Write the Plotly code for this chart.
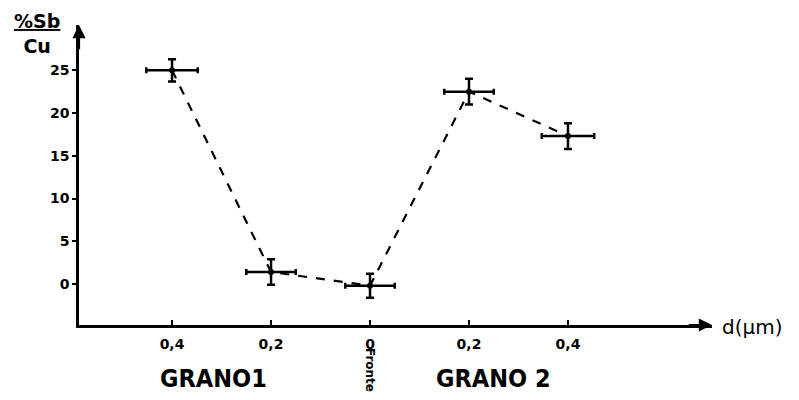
import plotly.graph_objects as go

# data
dist = [-0.4, -0.2, 0.0, 0.2, 0.4]
sb_cu = [25.0, 1.4, -0.2, 22.5, 17.3]
dist_err = [0.052, 0.05, 0.05, 0.05, 0.053]
sb_err = [1.3, 1.5, 1.4, 1.5, 1.5]
x_tickvals = [-0.4, -0.2, 0.0, 0.2, 0.4]
x_ticktext = ["0,4", "0,2", "0", "0,2", "0,4"]
y_tickvals = [0, 5, 10, 15, 20, 25]

# page has an 8px body margin; the figure is sized to fit the window
W, H = 791, 392
PW, PH = 633, 300
ml, mt = 71, 17
mr, mb = W - ml - PW, H - mt - PH
XR = [-0.588, 0.691]
YR = [-4.8, 30.3]


def px_x(p):  # page pixel -> paper x
    return (p - 79) / PW


def px_y(p):  # page pixel -> paper y
    return (325 - p) / PH


fig = go.Figure()
fig.add_trace(go.Scatter(
    x=dist, y=sb_cu, mode="lines+markers",
    line=dict(color="black", width=2.2, dash="dash"),
    marker=dict(color="black", size=6),
    error_x=dict(type="data", array=dist_err, color="black", thickness=2.5, width=3),
    error_y=dict(type="data", array=sb_err, color="black", thickness=2.5, width=4),
    showlegend=False, cliponaxis=False,
))

tickfont = dict(family="DejaVu Sans", size=14, color="black")
fig.update_layout(
    width=W, height=H,
    margin=dict(l=ml, r=mr, t=mt, b=mb),
    paper_bgcolor="white", plot_bgcolor="white",
    xaxis=dict(range=XR, showgrid=False, zeroline=False, showline=True,
               linecolor="black", linewidth=2.5, ticks="inside", ticklen=5,
               tickwidth=2, tickcolor="black",
               tickvals=x_tickvals, ticktext=["<b>%s</b>" % t for t in x_ticktext],
               tickfont=tickfont, ticklabelstandoff=4),
    yaxis=dict(range=YR, showgrid=False, zeroline=False, showline=True,
               linecolor="black", linewidth=2.5, ticks="outside", ticklen=4,
               tickwidth=2, tickcolor="black",
               tickvals=y_tickvals, ticktext=["<b>%d</b>" % v for v in y_tickvals],
               tickfont=tickfont, ticklabelstandoff=0),
)

# arrowheads on axes
fig.add_annotation(x=XR[1], y=YR[0], ax=XR[1] - 0.05, ay=YR[0], xref="x", yref="y",
                   axref="x", ayref="y", showarrow=True, arrowhead=2, arrowsize=1.2,
                   arrowwidth=2.2, arrowcolor="black", text="")
fig.add_annotation(x=XR[0], y=YR[1], ax=XR[0], ay=YR[1] - 3, xref="x", yref="y",
                   axref="x", ayref="y", showarrow=True, arrowhead=2, arrowsize=1.2,
                   arrowwidth=2.2, arrowcolor="black", text="")

# axis titles
fig.add_annotation(xref="paper", yref="paper", x=px_x(37), y=px_y(8),
                   xanchor="center", yanchor="top", showarrow=False, align="center",
                   text="<b><u>%Sb</u></b><br><b>Cu</b>",
                   font=dict(family="DejaVu Sans", size=19, color="black"))
fig.add_annotation(xref="paper", yref="paper", x=px_x(720), y=px_y(327),
                   xanchor="left", yanchor="middle", showarrow=False,
                   text="d(μm)", font=dict(family="DejaVu Sans", size=20, color="black"))

# Fronte vertical label
fig.add_annotation(xref="x", yref="paper", x=0.0, y=px_y(370),
                   xanchor="center", yanchor="middle", showarrow=False, textangle=90,
                   text="<b>Fronte</b>", font=dict(family="DejaVu Sans", size=12, color="black"))

# grain labels
for xc, t in [(213, "GRANO1"), (493, "GRANO 2")]:
    fig.add_annotation(xref="paper", yref="paper", x=px_x(xc), y=px_y(378),
                       xanchor="center", yanchor="middle", showarrow=False, text="<b>%s</b>" % t,
                       font=dict(family="DejaVu Sans Condensed", size=25, color="black"))

fig.write_html("out.html")
